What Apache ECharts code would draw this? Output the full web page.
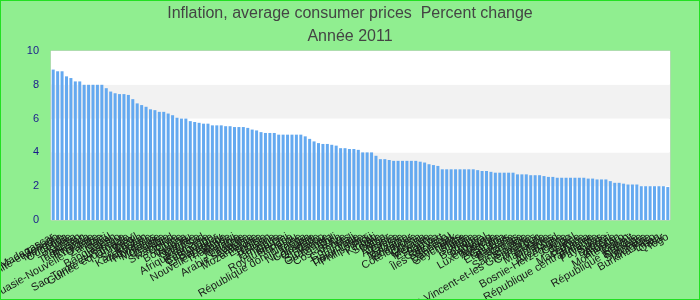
<!DOCTYPE html>
<html>
<head>
<meta charset="utf-8">
<script src="https://cdn.jsdelivr.net/npm/echarts@6/dist/echarts.min.js"></script>
<style>
html,body{margin:0;padding:0;background:#90EE90;}
#chart{width:700px;height:300px;box-sizing:border-box;border:1px solid #22e022;}
</style>
</head>
<body>
<div id="chart"></div>
<script>
const titleLine1 = "Inflation, average consumer prices  Percent change";
const titleLine2 = "Année 2011";
const yTicks = [0, 2, 4, 6, 8, 10];
const countries = [
"Madagascar","Trinité-et-Tobago","Mongolie","Ouganda","Inde","Kenya","Pakistan","Tadjikistan","Rwanda","Turquie",
"Papouasie-Nouvelle-Guinée","Zambie","Haïti","Népal","Bangladesh","Lesotho","Sao Tomé-et-Principe","Guinée équatoriale","Uruguay","Brésil",
"Sri Lanka","Kazakhstan","Indonésie","Honduras","Moldavie","Géorgie","Gambie","Swaziland","Bolivie","Chine",
"Botswana","Vanuatu","Namibie","Maurice","Afrique du Sud","Roumanie","Cambodge","El Salvador","Paraguay","Nouvelle-Zélande",
"Thaïlande","Malawi","Jordanie","Lituanie","Arabie saoudite","Lettonie","Mozambique","Estonie","Tunisie","Gabon",
"Pologne","Jamaïque","Corée","Royaume-Uni","Hongrie","Pérou","République dominicaine","Tonga","Nicaragua","Colombie",
"Grenade","Maroc","Slovaquie","Guatemala","Chili","Costa Rica","Belize","Comores","Mali","Dominique",
"Timor-Leste","Philippines","Fidji","Kiribati","Serbie","Bénin","Niger","Albanie","Grèce","Malaisie",
"Tanzanie","Équateur","Côte d'Ivoire","Libéria","Guyana","Mexique","Espagne","Samoa","Cap-Vert","Îles Salomon",
"Sénégal","Danemark","Seychelles","Malte","Islande","Italie","Belgique","Chypre","Portugal","Luxembourg",
"Autriche","Australie","Canada","États-Unis","Barbade","Bahamas","Croatie","Sainte-Lucie","Slovénie","Saint-Vincent-et-les Grenadines",
"Cameroun","Irlande","Mauritanie","Maldives","Tchad","Allemagne","Bosnie-Herzégovine","Congo","Israël","France",
"Macédoine","Panama","République centrafricaine","Finlande","Pays-Bas","Suède","Djibouti","Algérie","Bhoutan","Monténégro",
"Oman","Koweït","République tchèque","Norvège","Suriname","Bulgarie","Burkina Faso","Liban","Qatar","Togo"
];
const inflation = [
8.9,8.8,8.8,8.5,8.4,8.2,8.2,8.0,8.0,8.0,
8.0,8.0,7.8,7.6,7.5,7.45,7.45,7.4,7.15,6.9,
6.8,6.7,6.55,6.5,6.4,6.4,6.3,6.2,6.05,6.0,
6.0,5.85,5.8,5.75,5.7,5.7,5.6,5.6,5.6,5.55,
5.55,5.5,5.5,5.5,5.45,5.35,5.3,5.2,5.15,5.15,
5.15,5.05,5.05,5.05,5.05,5.05,5.05,4.95,4.8,4.65,
4.55,4.5,4.5,4.45,4.4,4.25,4.25,4.2,4.2,4.15,
4.0,4.0,4.0,3.8,3.6,3.6,3.55,3.5,3.5,3.5,
3.5,3.5,3.5,3.45,3.4,3.3,3.25,3.2,3.0,3.0,
3.0,3.0,3.0,3.0,3.0,3.0,2.95,2.9,2.9,2.85,
2.8,2.8,2.8,2.8,2.8,2.7,2.7,2.7,2.65,2.65,
2.65,2.6,2.55,2.55,2.5,2.5,2.5,2.5,2.5,2.5,
2.5,2.45,2.45,2.4,2.4,2.4,2.3,2.2,2.2,2.15,
2.1,2.1,2.1,2.0,2.0,2.0,2.0,2.0,2.0,1.95
];

const chart = echarts.init(document.getElementById('chart'), null, {renderer: 'canvas'});
chart.setOption({
  backgroundColor: '#90EE90',
  animation: false,
  title: {
    text: titleLine1 + '\n' + titleLine2,
    left: 'center',
    top: -4,
    textStyle: {
      fontFamily: '"Liberation Sans", Arial, sans-serif',
      fontSize: 16,
      fontWeight: 'normal',
      color: '#444',
      lineHeight: 23
    }
  },
  grid: {
    left: 50, right: 29, top: 50, bottom: 79,
    containLabel: false,
    outerBoundsMode: 'none',
    show: true, borderColor: '#cccccc', borderWidth: 1, backgroundColor: '#ffffff'
  },
  xAxis: {
    type: 'category',
    data: countries,
    axisLine: {show: false},
    axisTick: {show: false},
    axisLabel: {
      interval: 0,
      rotate: 30,
      margin: 16,
      fontFamily: '"Liberation Sans", Arial, sans-serif',
      fontSize: 11,
      color: '#1a1a1a'
    }
  },
  yAxis: {
    type: 'value',
    min: yTicks[0],
    max: yTicks[yTicks.length - 1],
    interval: 2,
    axisLine: {show: false},
    axisTick: {show: false},
    splitLine: {show: false},
    splitArea: {show: true, areaStyle: {color: ['#ffffff', '#f2f2f2']}},
    axisLabel: {
      margin: 12,
      fontFamily: '"Liberation Sans", Arial, sans-serif',
      fontSize: 11,
      color: '#1a1a8c'
    }
  },
  series: [{
    type: 'bar',
    data: inflation,
    barWidth: 3,
    itemStyle: {color: '#64a9f0'}
  }]
});
</script>
</body>
</html>
